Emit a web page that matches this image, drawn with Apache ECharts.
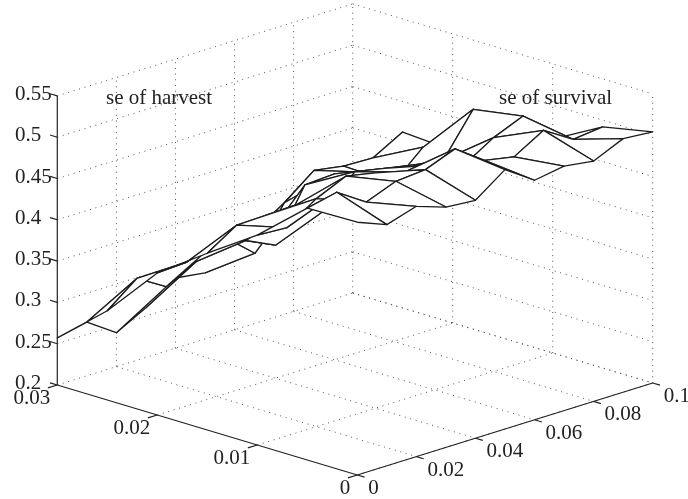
<!DOCTYPE html>
<html><head><meta charset="utf-8">
<style>html,body{margin:0;padding:0;background:#fff}#c{width:688px;height:499px}</style>
<script src="https://cdn.jsdelivr.net/npm/echarts@6/dist/echarts.min.js"></script>
</head><body><div id="c"></div>
<script>
const harvestRows = [0.03,0.025,0.02,0.015,0.01,0.005,0];
const survivalCols = [0,0.01,0.02,0.03,0.04,0.05,0.06,0.07,0.08,0.09,0.1];
const seH030 = [.257,.265,.241,.260,.285,.280,.297,.316,.337,.342,.339];
const seH025 = [.308,.336,.315,.334,.352,.322,.372,.400,.394,.393,.413];
const seH020 = [.372,.374,.387,.378,.361,.423,.425,.416,.392,.424,.409];
const seH015 = [.414,.437,.438,.439,.422,.457,.450,.443,.438,.488,.458];
const seH010 = [.454,.452,.476,.492,.485,.475,.472,.461,.483,.498,.459];
const seH005 = [.505,.513,.490,.504,.507,.521,.496,.489,.510,.488,.492];
const seH000 = [.506,.492,.503,.491,.488,.514,.490,.496,.491,.507,.504];
const seRows = [seH030,seH025,seH020,seH015,seH010,seH005,seH000];
const zTicks = ['0.2','0.25','0.3','0.35','0.4','0.45','0.5','0.55'];
const harvestTicks = ['0','0.01','0.02','0.03'];
const survivalTicks = ['0','0.02','0.04','0.06','0.08','0.1'];
const annotations = [{text:'se of harvest',x:106,y:98},{text:'se of survival',x:499,y:98}];

const H_MAX=0.03,S_MAX=0.1,Z_MIN=0.2,Z_MAX=0.55;
const VIEW={ox:357.3,oy:475,hx:-300,hy:-90,sx:295.4,sy:-92,zy:-826};
function project(h,s,z){
  const a=h/H_MAX,b=s/S_MAX;
  return [VIEW.ox+VIEW.hx*a+VIEW.sx*b, VIEW.oy+VIEW.hy*a+VIEW.sy*b+VIEW.zy*(z-Z_MIN)];
}
const FONT='21px "Liberation Serif"',INK='#222';

const gridSegs=[];
const num=a=>a.map(Number);
num(zTicks).forEach(z=>{
  gridSegs.push([H_MAX,0,z,H_MAX,S_MAX,z]);
  gridSegs.push([H_MAX,S_MAX,z,0,S_MAX,z]);
});
num(survivalTicks).filter(s=>s>0).forEach(s=>{
  gridSegs.push([H_MAX,s,Z_MIN,H_MAX,s,Z_MAX]);
  gridSegs.push([H_MAX,s,Z_MIN,0,s,Z_MIN]);
});
num(harvestTicks).filter(h=>h<H_MAX).forEach(h=>{
  gridSegs.push([h,S_MAX,Z_MIN,h,S_MAX,Z_MAX]);
  gridSegs.push([h,0,Z_MIN,h,S_MAX,Z_MIN]);
});
const axisSegs=[
  [H_MAX,0,Z_MIN,H_MAX,0,Z_MAX],
  [0,0,Z_MIN,H_MAX,0,Z_MIN],
  [0,0,Z_MIN,0,S_MAX,Z_MIN]
];
const TICK_H=0.00073,TICK_S=0.0032;
num(zTicks).forEach(z=>axisSegs.push([H_MAX,0,z,H_MAX+TICK_H,0,z]));
num(harvestTicks).forEach(h=>axisSegs.push([h,0,Z_MIN,h,-TICK_S,Z_MIN]));
num(survivalTicks).forEach(s=>axisSegs.push([0,s,Z_MIN,-TICK_H,s,Z_MIN]));

const quads=[];
for(let a=0;a<harvestRows.length-1;a++){
  for(let b=survivalCols.length-2;b>=0;b--){
    const h0=harvestRows[a],h1=harvestRows[a+1],s0=survivalCols[b],s1=survivalCols[b+1];
    quads.push([h0,s0,seRows[a][b],h0,s1,seRows[a][b+1],h1,s1,seRows[a+1][b+1],h1,s0,seRows[a+1][b]]);
  }
}
const labels=[];
zTicks.forEach(t=>{const p=project(H_MAX,0,+t);labels.push({text:t,x:15,y:p[1]-1.5,align:'left'});});
harvestTicks.forEach(t=>{const p=project(+t,0,Z_MIN);labels.push({text:t,x:p[0]-7,y:p[1]+13.5,align:'right'});});
survivalTicks.forEach(t=>{const p=project(0,+t,Z_MIN);labels.push({text:t,x:p[0]+11,y:p[1]+13.5,align:'left'});});
annotations.forEach(t=>labels.push({text:t.text,x:t.x,y:t.y,align:'left'}));

function segSeries(name,data,style,z){
  return {type:'custom',name,coordinateSystem:'cartesian2d',silent:true,animation:false,clip:false,z,
    data,encode:{x:0,y:1},
    renderItem(p,api){
      const v=i=>api.value(i);
      const a=api.coord(project(v(0),v(1),v(2))),b=api.coord(project(v(3),v(4),v(5)));
      return {type:'line',shape:{x1:a[0],y1:a[1],x2:b[0],y2:b[1]},style};
    }};
}
const chart=echarts.init(document.getElementById('c'),null,{renderer:'canvas'});
chart.setOption({
  animation:false,backgroundColor:'#fff',
  grid:{left:0,right:0,top:0,bottom:0},
  xAxis:{type:'value',min:0,max:688,show:false},
  yAxis:{type:'value',min:0,max:499,inverse:true,show:false},
  series:[
    segSeries('grid',gridSegs,{stroke:'#555',lineWidth:1,lineDash:[1,4.7],fill:null},1),
    segSeries('axes',axisSegs,{stroke:INK,lineWidth:1.2,fill:null},2),
    {type:'custom',name:'mesh',coordinateSystem:'cartesian2d',silent:true,animation:false,clip:false,z:3,
      data:quads,encode:{x:0,y:1},
      renderItem(p,api){
        const pts=[0,3,6,9].map(i=>api.coord(project(api.value(i),api.value(i+1),api.value(i+2))));
        return {type:'polygon',shape:{points:pts},style:{fill:'#fff',stroke:'#1c1c1c',lineWidth:1.3,lineJoin:'round'}};
      }},
    {type:'custom',name:'text',coordinateSystem:'cartesian2d',silent:true,animation:false,clip:false,z:4,
      data:labels.map(l=>[l.x,l.y,l.text,l.align]),encode:{x:0,y:1},
      renderItem(p,api){
        const l=labels[p.dataIndex],c=api.coord([l.x,l.y]);
        return {type:'text',style:{text:l.text,x:c[0],y:c[1],font:FONT,fill:INK,align:l.align,verticalAlign:'middle'}};
      }}
  ]
});
</script></body></html>
